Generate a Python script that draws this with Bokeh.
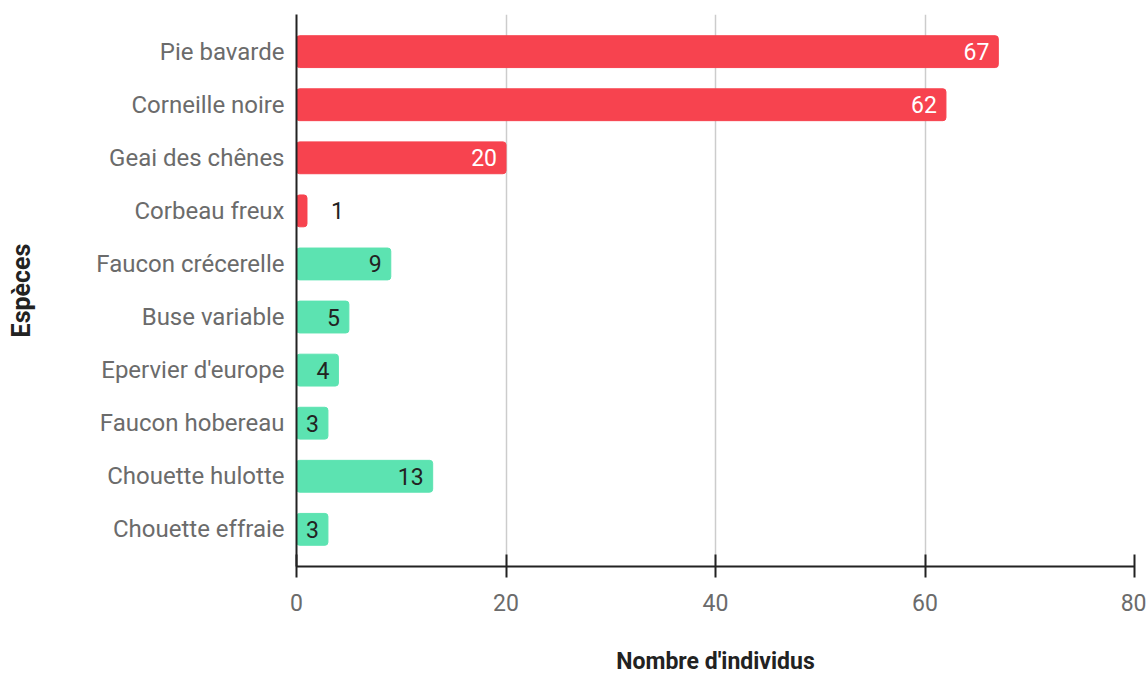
from bokeh.plotting import figure
from bokeh.models import ColumnDataSource, Range1d, FixedTicker
from bokeh.embed import file_html
from bokeh.resources import INLINE

species = ["Pie bavarde", "Corneille noire", "Geai des chênes", "Corbeau freux",
           "Faucon crécerelle", "Buse variable", "Epervier d'europe",
           "Faucon hobereau", "Chouette hulotte", "Chouette effraie"]
counts = [67, 62, 20, 1, 9, 5, 4, 3, 13, 3]
groups = ["corvid", "corvid", "corvid", "corvid", "raptor", "raptor", "raptor",
          "raptor", "raptor", "raptor"]
x_ticks = [0, 20, 40, 60, 80]

group_colors = {"corvid": "#F7434F", "raptor": "#5CE3B1"}
colors = [group_colors[g] for g in groups]
ypos = list(range(len(species)))

inside = [c >= 3 for c in counts]
label_offset = [-9 if i else 24 for i in inside]
label_align = ["right" if i else "left" for i in inside]
label_color = []
for g, i in zip(groups, inside):
    if i and g == "corvid":
        label_color.append("#ffffff")
    else:
        label_color.append("#222222")

src = ColumnDataSource(dict(y=ypos, counts=counts, colors=colors,
                            text=[str(c) for c in counts],
                            off=label_offset, align=label_align, tcol=label_color))

p = figure(width=1146, height=677, output_backend="svg", toolbar_location=None,
           y_range=Range1d(len(species) - 1 + 0.7, -0.7),
           x_range=Range1d(0, 80),
           min_border_left=296, min_border_right=12, min_border_top=14, min_border_bottom=108)
p.outline_line_color = None

p.hbar(y="y", right="counts", left=0, height=0.6, color="colors", source=src,
       border_radius=3)

p.text(x="counts", y="y", text="text", x_offset="off", text_align="align",
       text_baseline="middle", text_color="tcol", text_font_size="23px",
       text_font={"value": "Roboto"}, source=src)

p.xaxis.ticker = FixedTicker(ticks=x_ticks)
p.yaxis.ticker = FixedTicker(ticks=ypos)
p.yaxis.major_label_overrides = {i: s for i, s in zip(ypos, species)}
p.xaxis.axis_label = "Nombre d'individus"
p.yaxis.axis_label = "Espèces"
for ax in (p.xaxis[0], p.yaxis[0]):
    ax.axis_line_color = "#222222"
    ax.axis_line_width = 2
    ax.major_label_text_color = "#6b6b6b"
    ax.major_label_text_font = "Roboto"
    ax.axis_label_text_font = "Roboto"
    ax.axis_label_text_font_style = "bold"
    ax.axis_label_text_color = "#222222"
    ax.minor_tick_line_color = None

p.xaxis.major_label_text_font_size = "23px"
p.yaxis.major_label_text_font_size = "24px"
p.xaxis.axis_label_text_font_size = "23px"
p.yaxis.axis_label_text_font_size = "25px"

p.xaxis.major_tick_in = 12
p.xaxis.major_tick_out = 11
p.xaxis.major_tick_line_color = "#222222"
p.xaxis.major_tick_line_width = 2
p.xaxis.major_label_standoff = 16
p.xaxis.axis_label_standoff = 34

p.yaxis.major_tick_line_color = None
p.yaxis.major_tick_in = 0
p.yaxis.major_tick_out = 0
p.yaxis.major_label_standoff = 12
p.yaxis.axis_label_standoff = 57

p.ygrid.grid_line_color = None
p.xgrid.grid_line_color = "#cccccc"
p.xgrid.grid_line_width = 1.5

open("out.html", "w").write(file_html(p, INLINE))
